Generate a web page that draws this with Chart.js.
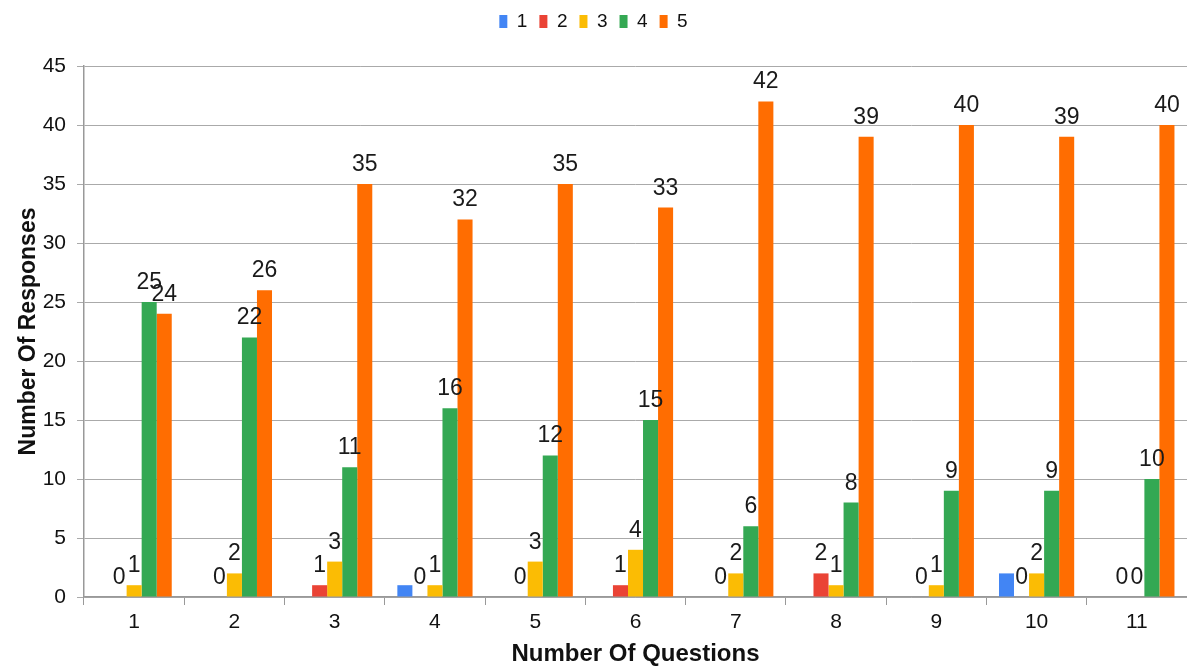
<!DOCTYPE html>
<html>
<head>
<meta charset="utf-8">
<script src="https://cdn.jsdelivr.net/npm/chart.js@4.4.1/dist/chart.umd.min.js"></script>
<style>
    body { margin: 0; background: #fff; }
    #DivGrafico { width: 1187px; height: 666px; }
</style>
</head>
<body>
<div id="DivGrafico"><canvas id="grafica"></canvas></div>
<script>
const preguntas = ["1", "2", "3", "4", "5", "6", "7", "8", "9", "10", "11"];
const serie1 = [0, 0, 0, 1, 0, 0, 0, 0, 0, 2, 0];
const serie2 = [0, 0, 1, 0, 0, 1, 0, 2, 0, 0, 0];
const serie3 = [1, 2, 3, 1, 3, 4, 2, 1, 1, 2, 0];
const serie4 = [25, 22, 11, 16, 12, 15, 6, 8, 9, 9, 10];
const serie5 = [24, 26, 35, 32, 35, 33, 42, 39, 40, 39, 40];
const nombresSerie = ["1", "2", "3", "4", "5"];
const colores = ["#4285F4", "#EA4335", "#FBBC04", "#34A853", "#FF6D01"];

const fuente = "'Liberation Sans', Arial, sans-serif";

// etiquetas encima de las barras (la serie 1 no lleva)
const etiquetasPlugin = {
    id: "etiquetas",
    afterDatasetsDraw(chart) {
        const ctx = chart.ctx;
        ctx.save();
        ctx.font = "23px " + fuente;
        ctx.fillStyle = "#1a1a1a";
        ctx.textAlign = "center";
        ctx.textBaseline = "alphabetic";
        chart.data.datasets.forEach((ds, i) => {
            if (i == 0) return;
            const meta = chart.getDatasetMeta(i);
            meta.data.forEach((bar, j) => {
                ctx.fillText(String(ds.data[j]), bar.x, bar.y - 13);
            });
        });
        ctx.restore();
    }
};

// mas espacio debajo de la leyenda
const espacioLeyenda = {
    id: "espacioLeyenda",
    beforeInit(chart) {
        const fitOriginal = chart.legend.fit;
        chart.legend.fit = function () {
            fitOriginal.bind(chart.legend)();
            this.height += 25;
        };
    }
};

const series = [serie1, serie2, serie3, serie4, serie5];
const data = {
    labels: preguntas,
    datasets: series.map((s, i) => ({
        label: nombresSerie[i],
        data: s,
        backgroundColor: colores[i],
        borderWidth: 0,
        barPercentage: 1,
        categoryPercentage: 0.75
    }))
};

const config = {
    type: "bar",
    data: data,
    options: {
        responsive: true,
        maintainAspectRatio: false,
        animation: false,
        layout: { padding: { top: 0, right: 0, left: 0, bottom: 0 } },
        plugins: {
            tooltip: { enabled: false },
            legend: {
                position: "top",
                labels: {
                    boxWidth: 8,
                    boxHeight: 13,
                    padding: 12,
                    color: "#111",
                    font: { family: fuente, size: 19 }
                }
            }
        },
        scales: {
            x: {
                grid: {
                    offset: true,
                    drawOnChartArea: false,
                    drawTicks: true,
                    tickLength: 8,
                    color: "#999"
                },
                border: { color: "#999", width: 1.5 },
                ticks: { color: "#111", font: { family: fuente, size: 21 }, padding: 5 },
                title: {
                    display: true,
                    text: "Number Of Questions",
                    color: "#111",
                    font: { family: fuente, size: 24, weight: "bold", lineHeight: 1 },
                    padding: { top: 0, bottom: 0 }
                },
                afterFit(scale) { scale.height = 69; }
            },
            y: {
                min: 0,
                max: 45,
                ticks: { stepSize: 5, color: "#111", font: { family: fuente, size: 21 }, padding: 11 },
                grid: { color: "#aaa", tickLength: 7 },
                border: { color: "#999", width: 1.5 },
                title: {
                    display: true,
                    text: "Number Of Responses",
                    color: "#111",
                    font: { family: fuente, size: 23, weight: "bold" },
                    padding: { top: 15, bottom: 0 }
                },
                afterFit(scale) { scale.width = 84; }
            }
        }
    },
    plugins: [etiquetasPlugin, espacioLeyenda]
};

let ChartPrincipal = new Chart(document.getElementById("grafica"), config);
</script>
</body>
</html>
